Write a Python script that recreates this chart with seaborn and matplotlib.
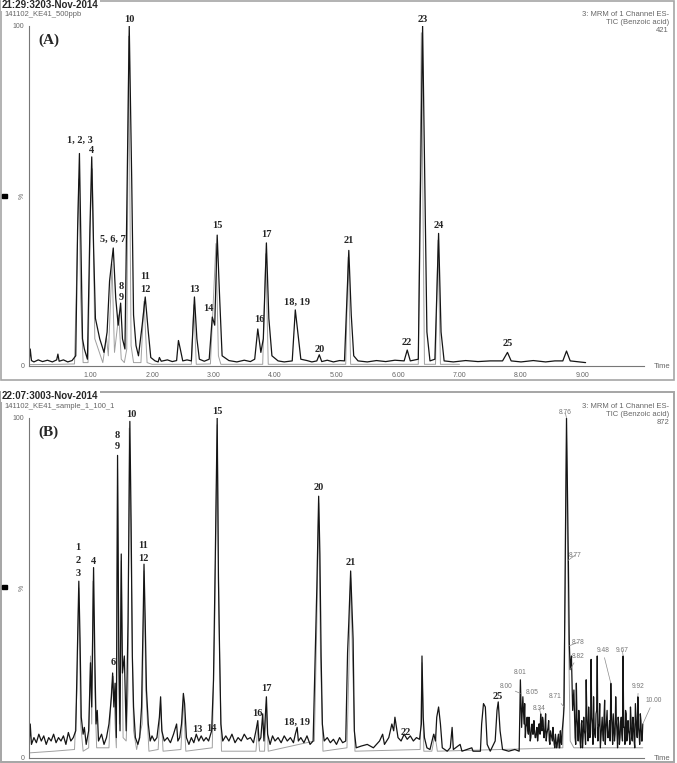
import numpy as np
import pandas as pd
import seaborn as sns
import matplotlib.pyplot as plt
from matplotlib.patches import Rectangle
from matplotlib.ticker import MultipleLocator

# %%
# --- panel A : standard 500 ppb, main trace (time min, intensity %)
a_time = [0.00, 0.02, 0.04, 0.08, 0.15, 0.22, 0.30, 0.38, 0.45, 0.47, 0.49, 0.56, 0.63, 0.70, 0.76,
          0.79, 0.82, 0.85, 0.87, 0.90, 0.95, 0.99, 1.02, 1.05, 1.08, 1.15, 1.22, 1.27, 1.31, 1.37,
          1.41, 1.45, 1.49, 1.52, 1.56, 1.60, 1.63, 1.67, 1.70, 1.74, 1.78, 1.84, 1.89, 1.94, 1.98,
          2.05, 2.10, 2.12, 2.15, 2.25, 2.33, 2.40, 2.43, 2.46, 2.50, 2.57, 2.64, 2.69, 2.73, 2.77,
          2.85, 2.93, 2.98, 3.02, 3.06, 3.10, 3.14, 3.25, 3.38, 3.50, 3.60, 3.67, 3.72, 3.77, 3.81,
          3.86, 3.90, 3.95, 4.05, 4.15, 4.28, 4.33, 4.37, 4.42, 4.52, 4.60, 4.68, 4.72, 4.76, 4.85,
          4.95, 5.05, 5.13, 5.20, 5.24, 5.28, 5.35, 5.50, 5.65, 5.80, 5.95, 6.10, 6.15, 6.20, 6.33,
          6.40, 6.47, 6.52, 6.60, 6.66, 6.70, 6.75, 6.90, 7.10, 7.30, 7.50, 7.70, 7.78, 7.84, 8.00,
          8.20, 8.40, 8.55, 8.68, 8.74, 8.80, 8.90, 9.05]
a_signal = [0.5, 5.0, 1.6, 1.2, 1.8, 1.3, 1.7, 1.2, 1.8, 3.5, 1.4, 1.8, 1.2, 1.6, 3.0,
            40, 62.5, 30, 8, 5, 2, 40, 61.5, 35, 14, 8, 4, 10, 25, 34.7,
            20, 12, 18.5, 8, 5, 60, 100, 55, 15, 6, 3, 12, 20.3, 10, 2.5,
            1.5, 1.2, 2.5, 1.4, 1.8, 1.3, 1.6, 7.5, 5.0, 1.5, 1.8, 1.5, 20.3, 8, 2,
            1.4, 2, 14.4, 12, 38.5, 20, 3, 1.6, 1.2, 1.7, 1.3, 2, 10.9, 4, 8,
            36.2, 14, 3, 1.5, 1.2, 1.5, 16.5, 10, 2, 1.6, 1.2, 1.5, 3.3, 1.3, 1.7,
            1.2, 1.6, 1.5, 34, 15, 3, 1.5, 1.2, 1.6, 1.3, 1.7, 1.5, 4.7, 1.5, 2,
            100, 10, 1.5, 2, 39, 10, 1.5, 1.2, 1.6, 1.3, 1.5, 1.5, 4, 1.5, 1.2,
            1.6, 1.2, 1.5, 1.5, 4.4, 1.5, 1.3, 1.0]

# panel A second (faint) trace
a2_time = [0.00, 0.50, 0.74, 0.78, 0.81, 0.84, 0.88, 0.96, 1.00, 1.03, 1.07, 1.20, 1.26, 1.29, 1.35, 1.39,
           1.46, 1.50, 1.55, 1.59, 1.62, 1.66, 1.70, 1.82, 1.87, 1.92, 2.00, 2.64, 2.68, 2.72, 2.95, 3.04,
           3.08, 3.12, 3.80, 3.85, 3.89, 5.15, 5.19, 5.23, 6.33, 6.38, 6.43, 6.61, 6.65, 6.69, 7.00]
a2_signal = [0.4, 0.5, 0.6, 30, 55, 20, 1, 1, 45, 58, 8, 1, 8.5, 3, 30, 4,
             15, 2, 1, 5, 97, 6, 1, 1, 19, 1, 0.5, 0.5, 18, 0.5, 0.6, 36,
             3, 0.5, 0.5, 33, 0.5, 0.5, 32, 0.5, 0.5, 98, 0.5, 0.5, 37, 0.5, 0.5]

# --- panel B : sample, main (noisy) trace
b_time = [0.00, 0.02, 0.04, 0.08, 0.12, 0.16, 0.20, 0.24, 0.28, 0.32, 0.36, 0.40, 0.44, 0.48, 0.52,
          0.56, 0.60, 0.64, 0.68, 0.72, 0.76, 0.78, 0.81, 0.83, 0.85, 0.88, 0.90, 0.93, 0.97, 1.00,
          1.02, 1.05, 1.07, 1.09, 1.11, 1.13, 1.18, 1.22, 1.26, 1.30, 1.34, 1.36, 1.38, 1.40, 1.42,
          1.44, 1.46, 1.48, 1.50, 1.52, 1.55, 1.58, 1.61, 1.64, 1.66, 1.68, 1.70, 1.73, 1.77, 1.80,
          1.83, 1.86, 1.87, 1.89, 1.91, 1.94, 1.97, 2.00, 2.04, 2.08, 2.12, 2.14, 2.16, 2.20, 2.25,
          2.30, 2.35, 2.40, 2.42, 2.45, 2.48, 2.51, 2.53, 2.56, 2.60, 2.64, 2.68, 2.72, 2.76, 2.80,
          2.84, 2.88, 2.92, 2.97, 3.00, 3.03, 3.06, 3.08, 3.10, 3.12, 3.15, 3.20, 3.25, 3.30, 3.35,
          3.40, 3.45, 3.50, 3.55, 3.60, 3.65, 3.69, 3.72, 3.74, 3.77, 3.80, 3.82, 3.86, 3.88, 3.92,
          3.96, 4.00, 4.05, 4.10, 4.15, 4.20, 4.25, 4.30, 4.33, 4.36, 4.38, 4.42, 4.47, 4.52, 4.57,
          4.62, 4.66, 4.68, 4.71, 4.73, 4.75, 4.77, 4.80, 4.85, 4.90, 4.95, 5.00, 5.05, 5.10, 5.15,
          5.18, 5.20, 5.23, 5.25, 5.27, 5.29, 5.32, 5.40, 5.50, 5.60, 5.70, 5.75, 5.78, 5.85, 5.90,
          5.93, 5.95, 6.00, 6.05, 6.10, 6.15, 6.20, 6.25, 6.30, 6.35, 6.38, 6.39, 6.41, 6.43, 6.47,
          6.52, 6.58, 6.61, 6.63, 6.66, 6.69, 6.72, 6.80, 6.85, 6.88, 6.90, 7.01, 7.04, 7.20, 7.22,
          7.34, 7.36, 7.39, 7.42, 7.45, 7.50, 7.58, 7.61, 7.63, 7.66, 7.70, 7.80, 7.90, 7.97, 7.99,
          8.01, 8.03, 8.05,
          8.72, 8.74, 8.755, 8.77, 8.785, 8.80, 8.82, 8.84, 8.86]
b_signal = [3, 10, 4, 6, 4.5, 7, 5, 6.5, 4, 6, 5, 7, 4.5, 6, 5,
            6.5, 4, 7.5, 5, 6, 8, 25, 52, 35, 12, 7, 9, 4, 8, 28,
            15, 56, 30, 10, 14, 5, 7, 4, 6, 10, 18, 25, 15, 22, 6,
            89, 30, 8, 60, 25, 30, 8, 40, 99, 70, 30, 15, 6, 4, 6,
            15, 45, 57, 40, 20, 10, 5, 6.5, 5, 6, 12, 18, 8, 5, 6,
            4.5, 7, 10, 5, 6, 10, 19, 16, 6, 4, 6, 4.5, 7, 5, 6.5,
            5, 6, 5, 8, 23, 60, 100, 53, 30, 10, 5, 6.5, 5, 7, 4.5,
            6, 5, 7, 5.5, 6, 4.5, 8, 11, 5, 6, 13, 5, 18, 7, 4,
            6.5, 5, 6, 4.5, 6.5, 5, 6, 4.5, 7, 9, 5, 6, 4.5, 6.5, 4,
            5, 35, 50, 77, 60, 30, 10, 5, 6, 4.5, 5.5, 4, 6, 4.5, 5,
            31, 40, 55, 45, 35, 8, 3, 3.5, 4, 3, 5, 7, 4, 6, 10,
            8, 12, 6, 5, 7, 5.5, 6.5, 5, 6, 5.5, 10, 30, 12, 6, 3,
            2.5, 7, 5, 12, 15, 10, 3, 2, 3, 9, 2.5, 4, 2, 3, 2,
            2, 10, 16, 15, 4, 2, 5, 14, 16.5, 8, 2.5, 2, 2.5, 2, 23,
            9, 18, 10,
            60, 100, 80, 58, 34, 26, 30, 14, 20]

# noisy stretches of trace B, read every 0.02 min (two interleaved readings)
noise_step = 0.02
b_noise1_start = 8.06
b_noise1 = [16, 9, 12, 7, 9, 6, 10, 7, 8, 6, 9, 7, 10, 13, 8, 11, 6,
            13, 7, 9, 5, 8, 6, 9, 4, 7, 3, 6, 3, 8, 4, 10, 15]
b_noise1b_start = 8.07
b_noise1b = [6, 10, 8, 12, 5, 9, 7, 11, 6, 8, 5, 10, 7, 9, 12, 6,
             9, 5, 8, 11, 4, 7, 5, 6, 3, 5, 4, 7, 3, 5, 8, 12]
b_noise2_start = 8.88
b_noise2 = [6, 22, 9, 14, 5, 10, 3, 12, 7, 23, 8, 15, 6, 29, 10, 18, 7, 13, 30, 9,
            16, 6, 12, 5, 17, 8, 14, 6, 11, 22, 9, 13, 5, 18, 8, 12, 4, 10, 7, 30,
            9, 14, 5, 11, 7, 15, 6, 12, 5, 16, 8, 18, 7, 13, 5, 10]
b_noise2b_start = 8.89
b_noise2b = [4, 12, 5, 9, 3, 11, 6, 8, 4, 13, 5, 10, 7, 12, 4, 9, 6, 14, 5, 10,
             3, 9, 7, 12, 4, 11, 6, 8, 5, 13, 4, 9, 7, 11, 3, 10, 6, 12, 5, 9,
             4, 13, 6, 8, 4, 11, 5, 10, 3, 12, 6, 9, 4, 11, 5]

# panel B second (grey) trace
b2_time = [0.00, 0.40, 0.74, 0.78, 0.81, 0.84, 0.88, 0.97, 1.00, 1.02, 1.04, 1.07, 1.10, 1.30, 1.34, 1.37,
           1.40, 1.42, 1.44, 1.47, 1.50, 1.53, 1.58, 1.61, 1.63, 1.66, 1.70, 1.75, 1.84, 1.87, 1.90, 1.95,
           2.10, 2.14, 2.18, 2.47, 2.51, 2.55, 2.98, 3.02, 3.06, 3.09, 3.13, 3.69, 3.72, 3.75, 3.83, 3.86,
           3.89, 4.64, 4.68, 4.71, 4.74, 4.78, 5.17, 5.20, 5.23, 5.26, 5.30, 6.36, 6.39, 6.42, 6.55, 6.60,
           6.64, 8.68, 8.72, 8.74, 8.77, 8.80, 8.86, 9.98]
b2_signal = [1.5, 2, 2.5, 20, 50, 10, 2, 3, 30, 10, 52, 20, 3, 3, 20, 24,
             10, 3, 85, 10, 58, 6, 5, 20, 97, 60, 8, 2.5, 10, 55, 20, 2,
             2.5, 16, 2, 2.5, 17, 2, 3, 40, 98, 40, 2, 2, 9, 2, 2, 16,
             2, 5, 40, 75, 30, 2, 3, 25, 53, 30, 2, 2.5, 28, 2, 2, 7,
             2, 3, 50, 95, 40, 5, 3, 3]

# peak numbers (label, time, intensity where the label sits)
a_peak_labels = [("10", 1.63, 102), ("1, 2, 3", 0.82, 66.5), ("4", 1.02, 63.5), ("5, 6, 7", 1.36, 37.4),
                 ("8", 1.50, 23.5), ("9", 1.50, 20), ("11", 1.89, 26.2), ("12", 1.89, 22.6),
                 ("13", 2.69, 22.4), ("14", 2.92, 17), ("15", 3.06, 41.2), ("16", 3.75, 13.8),
                 ("17", 3.86, 38.8), ("18, 19", 4.35, 18.8), ("20", 4.72, 5), ("21", 5.20, 37),
                 ("22", 6.14, 7), ("23", 6.40, 102), ("24", 6.66, 41.2), ("25", 7.78, 6.5)]
b_peak_labels = [("1", 0.80, 61.8), ("2", 0.80, 58.2), ("3", 0.80, 54.4), ("4", 1.05, 57.9),
                 ("6", 1.37, 28.2), ("8", 1.44, 95), ("9", 1.44, 91.5), ("10", 1.66, 101),
                 ("11", 1.86, 62.4), ("12", 1.86, 58.8), ("13", 2.74, 8.5), ("14", 2.97, 8.8),
                 ("15", 3.06, 102), ("16", 3.72, 13.2), ("17", 3.86, 20.3), ("18, 19", 4.35, 10.6),
                 ("20", 4.71, 79.7), ("21", 5.23, 57.4), ("22", 6.12, 7.4), ("25", 7.63, 18)]
# retention time callouts in B: text, peak time, peak intensity, text time, text intensity, align
b_rt_labels = [("8.76", 8.74, 100, 8.72, 101.5, "center"), ("8.77", 8.755, 58, 8.78, 59.7, "left"),
               ("8.78", 8.785, 33, 8.82, 34, "left"), ("8.82", 8.80, 26, 8.82, 30, "left"),
               ("9.48", 9.46, 22, 9.33, 31.5, "center"), ("9.67", 9.66, 30, 9.65, 31.5, "center"),
               ("9.92", 9.90, 18, 9.91, 21, "center"), ("10.00", 9.98, 10, 10.15, 16.8, "center"),
               ("8.01", 7.99, 23, 7.99, 25, "center"), ("8.00", 7.99, 19, 7.75, 20.9, "center"),
               ("8.05", 8.03, 18, 8.19, 19.4, "center"), ("8.34", 8.32, 13, 8.30, 14.5, "center"),
               ("8.71", 8.70, 15, 8.56, 18, "center")]

x_tick_labels = ["1.00", "2.00", "3.00", "4.00", "5.00", "6.00", "7.00", "8.00", "9.00"]

# %%
sns.set_style("white")
plt.rcParams['font.family'] = ['Liberation Sans', 'DejaVu Sans']
W, H = 677, 763
GREY = "#666666"
SERIF = "Liberation Serif"


def px(x, y):
    return x / W, 1 - y / H


def trace_df(t, s):
    return pd.DataFrame({"time": t, "intensity": s}).sort_values("time").reset_index(drop=True)


def noise_df(start, vals):
    t = start + noise_step * np.arange(len(vals))
    return pd.DataFrame({"time": t, "intensity": vals})


df_a = trace_df(a_time, a_signal)
df_a2 = trace_df(a2_time, a2_signal)
df_b = pd.concat([trace_df(b_time, b_signal),
                  noise_df(b_noise1_start, b_noise1),
                  noise_df(b_noise1b_start, b_noise1b),
                  noise_df(b_noise2_start, b_noise2),
                  noise_df(b_noise2b_start, b_noise2b)]).sort_values("time").reset_index(drop=True)
df_b2 = trace_df(b2_time, b2_signal)

fig = plt.figure(figsize=(W / 100, H / 100), dpi=100)
ax_a = fig.add_axes([29 / W, (H - 366) / H, 615 / W, 340 / H])
ax_b = fig.add_axes([29 / W, (H - 758) / H, 615 / W, 340 / H])

for ax, df_main, df_sec in [(ax_a, df_a, df_a2), (ax_b, df_b, df_b2)]:
    sns.lineplot(data=df_sec, x="time", y="intensity", ax=ax, color="#a0a0a0",
                 lw=0.7, estimator=None, sort=False)
    sns.lineplot(data=df_main, x="time", y="intensity", ax=ax, color="#151515",
                 lw=0.9, estimator=None, sort=False)
    ax.set_xlim(0, 10)
    ax.set_ylim(0, 100)
    ax.set_facecolor("none")
    ax.set_xlabel("")
    ax.set_ylabel("")
    sns.despine(ax=ax)
    for side in ["left", "bottom"]:
        ax.spines[side].set_color("#777777")
        ax.spines[side].set_linewidth(0.8)
    ax.set_xticks(np.arange(1, 10))
    ax.set_xticklabels(x_tick_labels)
    ax.xaxis.set_minor_locator(MultipleLocator(0.1))
    ax.set_yticks(np.arange(0, 101, 10))
    ax.set_yticklabels(["0"] + [""] * 9 + ["100"])
    ax.tick_params(axis="both", which="both", direction="out", color="#777777",
                   labelsize=5, labelcolor=GREY, pad=1, width=0.6)
    ax.tick_params(axis="x", which="major", length=3)
    ax.tick_params(axis="x", which="minor", length=1.8)
    ax.tick_params(axis="y", length=2.5)
    ax.text(10.3, 0, "Time", fontsize=5.5, color=GREY, ha="center", va="center", clip_on=False)
    ax.text(-0.11, 50, "%", fontsize=5, color=GREY, ha="center", va="center",
            rotation=90, clip_on=False)

for ax, labels in [(ax_a, a_peak_labels), (ax_b, b_peak_labels)]:
    for s, t, y in labels:
        ax.text(t, y, s, fontsize=7.5, fontweight="bold", family=SERIF,
                ha="center", va="center", clip_on=False)

for s, pt, pi, tt, ti, ha in b_rt_labels:
    ax_b.annotate(s, xy=(pt, pi), xytext=(tt, ti), fontsize=4.8, color="#777777",
                  ha=ha, va="center", annotation_clip=False,
                  arrowprops=dict(arrowstyle="-", color="#8a8a8a", lw=0.5,
                                  shrinkA=0, shrinkB=0))

# panel frames
fig.add_artist(Rectangle(px(1, 380), 673 / W, 379 / H, transform=fig.transFigure,
                         fill=False, ec="#a5a5a5", lw=1.2))
fig.add_artist(Rectangle(px(1, 762), 673 / W, 370 / H, transform=fig.transFigure,
                         fill=False, ec="#a5a5a5", lw=1.4))

box = dict(facecolor="white", edgecolor="none", pad=1)
for y0, stamp, sample, count in [(0, "21:29:3203-Nov-2014", "141102_KE41_500ppb", "421"),
                                 (391, "22:07:3003-Nov-2014", "141102_KE41_sample_1_100_1", "872")]:
    fig.text(*px(2, y0 + 5), stamp, fontsize=7, fontweight="bold", ha="left", va="center", bbox=box)
    fig.text(*px(4, y0 + 15), sample, fontsize=5.5, color=GREY, ha="left", va="center")
    fig.text(*px(669, y0 + 15), "3: MRM of 1 Channel ES-", fontsize=5.5, color=GREY,
             ha="right", va="center")
    fig.text(*px(669, y0 + 23), "TIC (Benzoic acid)", fontsize=5.5, color=GREY,
             ha="right", va="center")
    fig.text(*px(669, y0 + 31), count, fontsize=5.5, color=GREY, ha="right", va="center")

fig.text(*px(49, 40), "(A)", fontsize=11, fontweight="bold", family=SERIF, ha="center", va="center")
fig.text(*px(48, 432), "(B)", fontsize=11, fontweight="bold", family=SERIF, ha="center", va="center")
for yc in [196, 587]:
    fig.add_artist(Rectangle(px(2, yc + 2), 5 / W, 4 / H, transform=fig.transFigure,
                             color="black"))

plt.savefig("out.png", dpi=100)
